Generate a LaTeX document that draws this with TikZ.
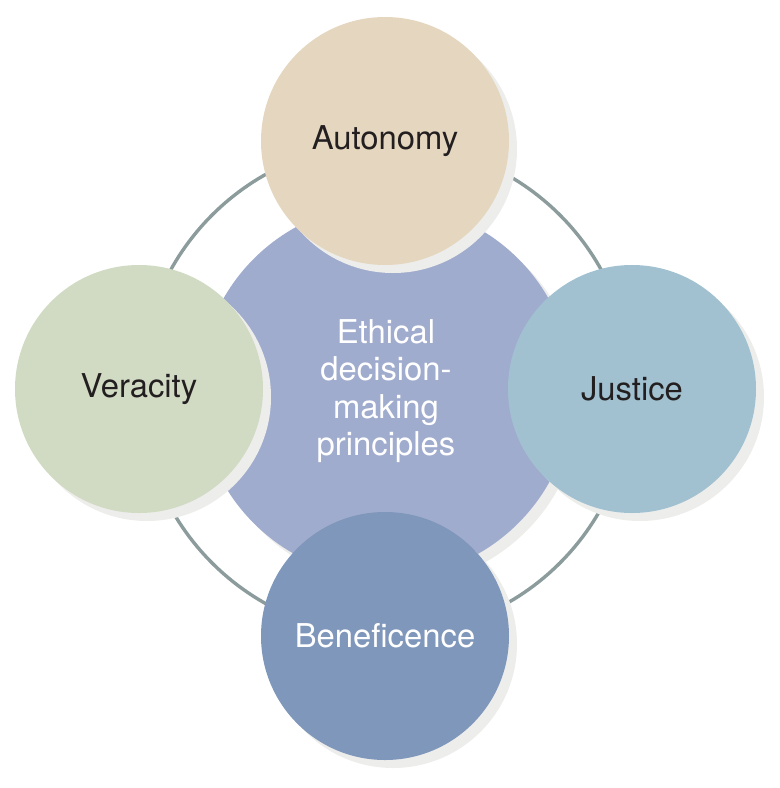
\documentclass[tikz,border=0pt]{standalone}
\usepackage{fontspec}
\setmainfont{TeX Gyre Heros}
\usetikzlibrary{shadows}

\definecolor{ringgray}{HTML}{8C9B9B}
\definecolor{shadowgray}{HTML}{EDEDEB}
\definecolor{autofill}{HTML}{E5D7BF}
\definecolor{ethicsfill}{HTML}{A0ACCE}
\definecolor{verfill}{HTML}{D1DBC4}
\definecolor{jusfill}{HTML}{A1C1D1}
\definecolor{benfill}{HTML}{7E97BB}
\definecolor{darktext}{HTML}{231F20}

\begin{document}
\begin{tikzpicture}[x=0.5pt,y=-0.5pt]
        \tikzset{principle/.style={circle, inner sep=0pt, minimum size=124pt, text=darktext,
            font=\fontsize{16.4}{18.7}\selectfont,
            drop shadow={shadow xshift=4pt, shadow yshift=-4pt, fill=shadowgray, opacity=1}}}
        \useasboundingbox (0,0) rectangle (780,788);

        \draw[ringgray, line width=1.7pt] (386,389) circle[radius=246];
        \node[principle, minimum size=187pt, fill=ethicsfill, text=white, align=center] (ethics) at (386,391) {Ethical\\decision-\\making\\principles};
        \node[principle, fill=autofill]                (auto) at (385,141) {Autonomy};
        \node[principle, fill=verfill]                 (ver)  at (139,389) {Veracity};
        \node[principle, fill=jusfill]                 (jus)  at (632,389) {Justice};
        \node[principle, fill=benfill, text=white]     (ben)  at (385,636) {Beneficence};

      \end{tikzpicture}
\end{document}
